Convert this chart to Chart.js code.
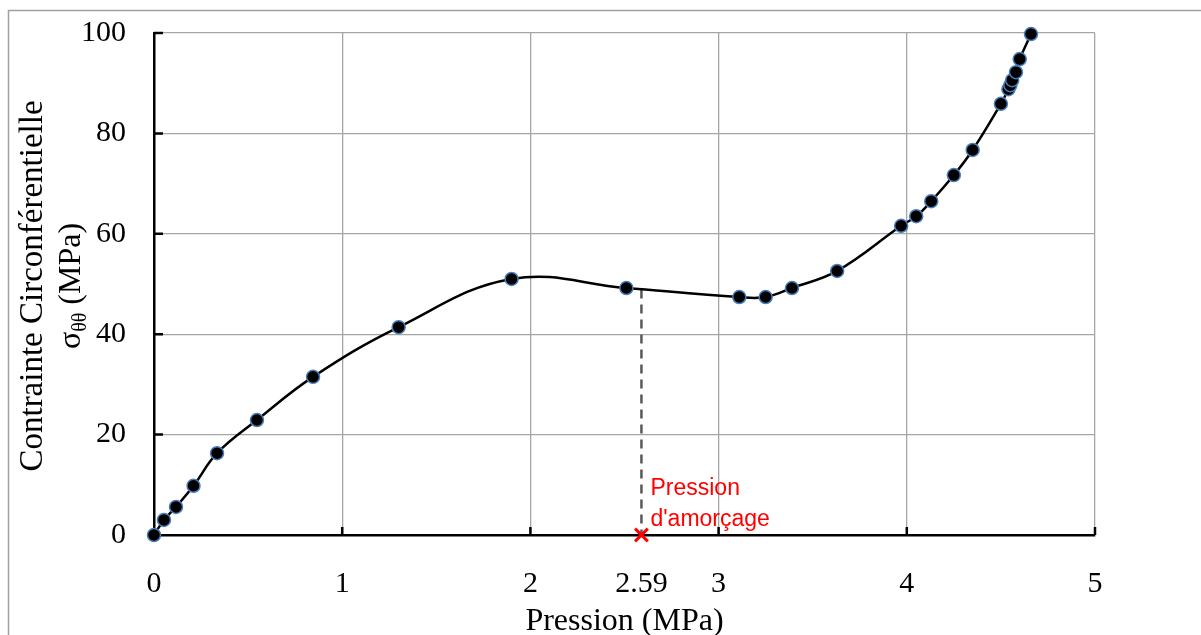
<!DOCTYPE html>
<html>
<head>
<meta charset="utf-8">
<script src="https://cdn.jsdelivr.net/npm/chart.js@4.4.1/dist/chart.umd.min.js"></script>
<style>
  html, body { margin: 0; padding: 0; background: #fff; }
</style>
</head>
<body>
<canvas id="chart" width="1201" height="635"></canvas>
<script>
// Pression (MPa) vs contrainte circonférentielle (MPa)
const pressure = [0, 0.053, 0.117, 0.21, 0.335, 0.547, 0.845, 1.30, 1.90, 2.51, 3.11, 3.25, 3.39, 3.63, 3.97, 4.05, 4.13, 4.25, 4.35, 4.50, 4.54, 4.55, 4.56, 4.58, 4.60, 4.66];
const stress = [0, 3.0, 5.6, 9.8, 16.3, 22.9, 31.5, 41.4, 51.0, 49.2, 47.4, 47.4, 49.2, 52.6, 61.6, 63.5, 66.5, 71.7, 76.7, 85.9, 88.8, 89.6, 90.6, 92.2, 94.8, 99.8];

const initPressure = 2.59;
const initStress = 48.9;
const xTicks = [0, 1, 2, 2.59, 3, 4, 5];
const yTicks = [0, 20, 40, 60, 80, 100];

const serif = "'Liberation Serif', 'Times New Roman', serif";
const gridGray = '#a6a6a6';

const curve = pressure.map((p, i) => ({ x: p, y: stress[i] }));

// outer frame, axis titles, inward ticks, red label
const decor = {
  id: 'decor',
  beforeDraw(chart) {
    const ctx = chart.ctx;
    ctx.save();
    ctx.fillStyle = '#fff';
    ctx.fillRect(0, 0, chart.width, chart.height);
    ctx.strokeStyle = '#a0a0a0';
    ctx.lineWidth = 1.5;
    ctx.strokeRect(8.5, 10.5, chart.width + 50, chart.height + 50);
    ctx.restore();
  },
  afterDatasetsDraw(chart) {
    const ctx = chart.ctx;
    const xs = chart.scales.x, ys = chart.scales.y;
    const area = chart.chartArea;
    ctx.save();

    // inward tick marks
    ctx.strokeStyle = '#000';
    ctx.lineWidth = 2.5;
    ctx.beginPath();
    xTicks.filter(v => v !== initPressure && v !== 0).forEach(v => {
      const px = xs.getPixelForValue(v);
      ctx.moveTo(px, area.bottom);
      ctx.lineTo(px, area.bottom - 8);
    });
    yTicks.filter(v => v !== 0).forEach(v => {
      const py = ys.getPixelForValue(v);
      ctx.moveTo(area.left, py);
      ctx.lineTo(area.left + 9, py);
    });
    ctx.stroke();

    // red annotation
    const ax = xs.getPixelForValue(initPressure) + 9;
    const ay = ys.getPixelForValue(0);
    ctx.fillStyle = '#ff0000';
    ctx.font = "23px 'Liberation Sans', Arial, sans-serif";
    ctx.textAlign = 'left';
    ctx.textBaseline = 'alphabetic';
    ctx.fillText('Pression', ax, ay - 40);
    ctx.fillText("d'amorçage", ax, ay - 9);

    // x title
    ctx.fillStyle = '#000';
    ctx.font = '32px ' + serif;
    ctx.textAlign = 'center';
    ctx.fillText('Pression (MPa)', (area.left + area.right) / 2, 630);

    // y title (two lines, subscript θθ)
    const cy = (area.top + area.bottom) / 2 + 2;
    ctx.translate(0, cy);
    ctx.rotate(-Math.PI / 2);
    ctx.textBaseline = 'alphabetic';
    ctx.textAlign = 'center';
    ctx.font = '33px ' + serif;
    ctx.fillText('Contrainte Circonférentielle', 0, 42);
    const big = '32px ' + serif, small = '20px ' + serif;
    ctx.font = big;
    const wS = ctx.measureText('σ').width;
    const wR = ctx.measureText(' (MPa)').width;
    ctx.font = small;
    const wT = ctx.measureText('θθ').width;
    let x0 = -(wS + wT + wR) / 2;
    ctx.textAlign = 'left';
    ctx.font = big;
    ctx.fillText('σ', x0, 80);
    ctx.font = small;
    ctx.fillText('θθ', x0 + wS, 86);
    ctx.font = big;
    ctx.fillText(' (MPa)', x0 + wS + wT, 80);
    ctx.restore();
  }
};

new Chart(document.getElementById('chart'), {
  type: 'scatter',
  data: {
    datasets: [
      {
        label: 'Contrainte',
        data: curve,
        showLine: true,
        tension: 0.4,
        clip: false,
        borderColor: '#000',
        borderWidth: 2.5,
        pointRadius: 6.5,
        pointBackgroundColor: '#000',
        pointBorderColor: '#4a7ebb',
        pointBorderWidth: 1.5,
        order: 1
      },
      {
        label: 'Amorçage',
        data: [{ x: initPressure, y: initStress }, { x: initPressure, y: 0 }],
        showLine: true,
        clip: false,
        borderColor: '#595959',
        borderWidth: 2.5,
        borderDash: [9, 6],
        pointRadius: 0,
        order: 2
      },
      {
        label: 'Marqueur',
        data: [{ x: initPressure, y: 0 }],
        clip: false,
        pointStyle: 'crossRot',
        pointRadius: 9,
        borderColor: '#ff0000',
        borderWidth: 3,
        order: 0
      }
    ]
  },
  options: {
    responsive: false,
    animation: false,
    layout: { padding: { left: 0, top: 33, right: 106, bottom: 0 } },
    plugins: {
      legend: { display: false },
      tooltip: { enabled: false }
    },
    scales: {
      x: {
        type: 'linear',
        min: 0,
        max: 5,
        afterFit: s => { s.height = 100; s.paddingLeft = 0; s.paddingRight = 0; },
        afterBuildTicks: s => { s.ticks = xTicks.map(v => ({ value: v })); },
        grid: {
          drawTicks: false,
          color: c => (c.tick && c.tick.value === initPressure) ? 'transparent' : gridGray,
          lineWidth: 1.3
        },
        border: { color: '#000', width: 2.5 },
        ticks: {
          padding: 31,
          color: '#000',
          font: { family: serif, size: 30 },
          callback: v => String(v)
        }
      },
      y: {
        min: 0,
        max: 100,
        afterFit: s => { s.width = 154; s.paddingTop = 0; s.paddingBottom = 0; },
        afterBuildTicks: s => { s.ticks = yTicks.map(v => ({ value: v })); },
        grid: { drawTicks: false, color: gridGray, lineWidth: 1.3 },
        border: { color: '#000', width: 2.5 },
        ticks: {
          padding: 28,
          color: '#000',
          font: { family: serif, size: 30 }
        }
      }
    }
  },
  plugins: [decor]
});
</script>
</body>
</html>
